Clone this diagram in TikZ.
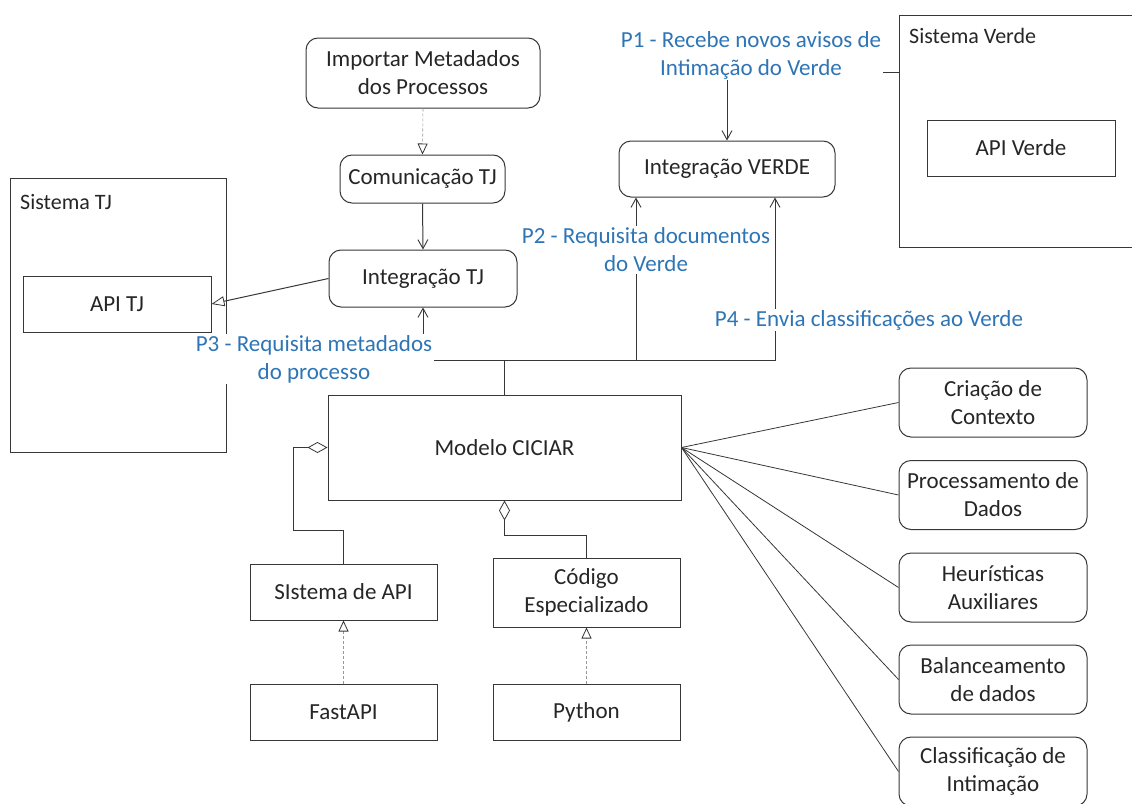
\documentclass[tikz,border=0pt]{standalone}
\usepackage{fontspec}
\setmainfont{Carlito}
\usetikzlibrary{arrows.meta}
\definecolor{lbl}{RGB}{46,117,182}
\definecolor{ln}{RGB}{55,55,55}

\begin{document}
\begin{tikzpicture}[x=1pt,y=-1pt,
  every node/.style={font=\fontsize{23}{28}\selectfont, text=black!85},
  box/.style={draw=ln, line width=1pt, fill=white, inner sep=0pt, align=center},
  rbox/.style={box, rounded corners=12pt},
  sysbox/.style={draw=ln, line width=1pt, inner sep=0pt},
  systitle/.style={font=\fontsize{22}{26}\selectfont, anchor=west, inner sep=0pt},
  conn/.style={draw=ln, line width=1pt},
  arr/.style={conn, -{Straight Barb[length=9pt,width=10pt,line width=0.9pt]}},
  real/.style={draw=gray!80, line width=0.6pt, densely dashed,
    -{Triangle[length=11pt,width=10pt,color=ln,fill=white,line width=0.8pt]}},
  gen/.style={conn, -{Triangle[length=13pt,width=10pt,color=ln,fill=white,line width=0.8pt]}},
  agg/.style={conn, -{Diamond[length=20pt,width=11pt,color=ln,fill=white,line width=0.8pt]}},
  plabel/.style={text=lbl, fill=white, align=center, inner sep=1.5pt}
]
\useasboundingbox (0,0) rectangle (1132,803);

% external systems
\node[sysbox, minimum width=216pt, minimum height=274pt] (sistj) at (118,315) {};
\node[systitle] (sistjt) at (20,202) {Sistema TJ};
\node[box, minimum width=188pt, minimum height=56pt] (apitj) at (117,304) {API TJ};

\node[sysbox, minimum width=246pt, minimum height=232pt] (sisv) at (1022,131) {};
\node[systitle] (sisvt) at (909,36) {Sistema Verde};
\node[box, minimum width=188pt, minimum height=56pt] (apiv) at (1021,148) {API Verde};

% integration components
\node[rbox, minimum width=234pt, minimum height=70pt] (imp) at (423,73) {Importar Metadados\\dos Processos};
\node[rbox, minimum width=165pt, minimum height=48pt] (com) at (422.5,179) {Comunicação TJ};
\node[rbox, minimum width=188pt, minimum height=57pt] (itj) at (423,278.5) {Integração TJ};
\node[rbox, minimum width=216pt, minimum height=56pt] (iv) at (727,169) {Integração VERDE};

% core model and its parts
\node[box, minimum width=353pt, minimum height=105pt] (mc) at (504.5,447.5) {Modelo CICIAR};
\node[box, minimum width=187pt, minimum height=56pt] (sapi) at (343.5,592) {SIstema de API};
\node[box, minimum width=187pt, minimum height=69pt] (cod) at (586.5,592.5) {Código\\Especializado};
\node[box, minimum width=187pt, minimum height=56pt] (fast) at (343.5,712) {FastAPI};
\node[box, minimum width=187pt, minimum height=56pt] (py) at (586.5,712) {Python};

% processing steps
\node[rbox, minimum width=188pt, minimum height=69pt] (s1) at (993,402.5) {Criação de\\Contexto};
\node[rbox, minimum width=188pt, minimum height=69pt] (s2) at (993,495) {Processamento de\\Dados};
\node[rbox, minimum width=188pt, minimum height=69pt] (s3) at (993,587.5) {Heurísticas\\Auxiliares};
\node[rbox, minimum width=188pt, minimum height=69pt] (s4) at (993,679.5) {Balanceamento\\de dados};
\node[rbox, minimum width=188pt, minimum height=69pt] (s5) at (993,771.5) {Classificação de\\Intimação};

% routing points
\coordinate (svp) at (899,72);
\coordinate (bus) at (504.5,360);
\coordinate (k1) at (293,530);
\coordinate (k2) at (504.5,535);

% connectors
\draw[real] (imp.south) -- (com.north);
\draw[arr] (com.south) -- (itj.north);
\draw[gen] (itj.west) -- (apitj.east);
\draw[arr] (svp) -| (iv.north);

\draw[conn] (mc.north) -- (bus);
\draw[arr] (bus) -| (itj.south);
\draw[arr] (bus) -| ([xshift=-91pt]iv.south);
\draw[arr] (bus) -| ([xshift=48pt]iv.south);

\draw[agg] (sapi.north) |- (k1) |- (mc.west);
\draw[agg] (cod.north) |- (k2) -- (mc.south);
\draw[real] (fast.north) -- (sapi.south);
\draw[real] (py.north) -- (cod.south);

\foreach \s in {s1,s2,s3,s4,s5}
  \draw[conn, line width=0.8pt] (mc.east) -- (\s.west);

% message labels
\node[plabel] (p1) at (751,55) {P1 - Recebe novos avisos de\\Intimação do Verde};
\node[plabel] (p2) at (646,250) {P2 - Requisita documentos\\do Verde};
\node[plabel] (p3) at (314,359) {P3 - Requisita metadados\\do processo};
\node[plabel] (p4) at (869,320) {P4 - Envia classificações ao Verde};
\end{tikzpicture}
\end{document}
